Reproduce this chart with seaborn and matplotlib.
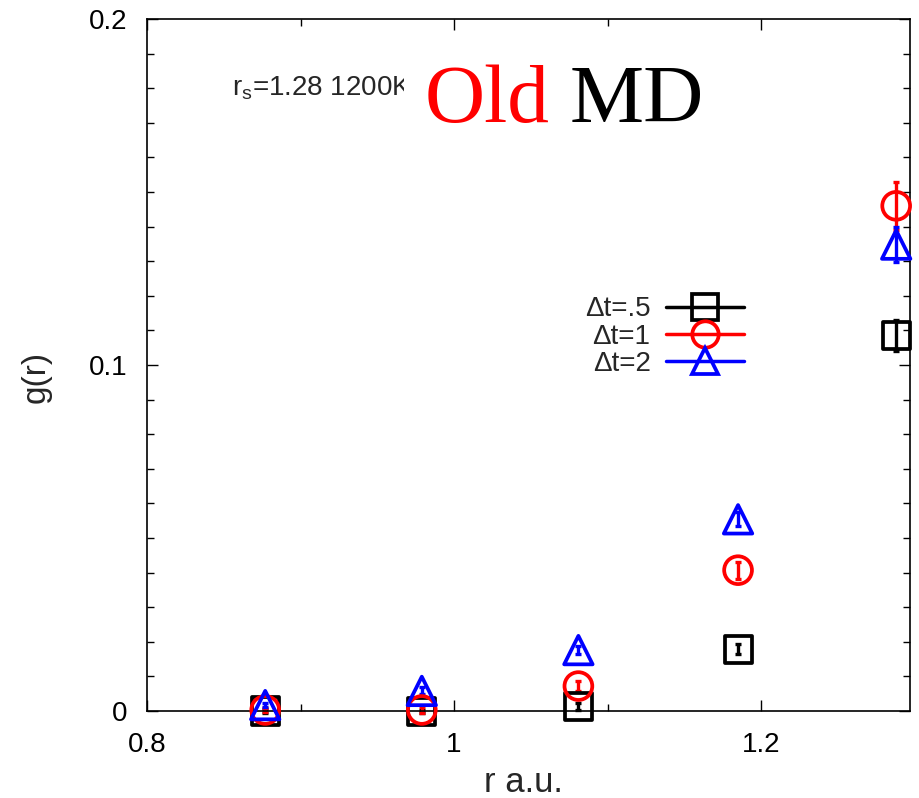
import numpy as np
import pandas as pd
import matplotlib
matplotlib.use("Agg")
import matplotlib.pyplot as plt
from matplotlib.lines import Line2D
from matplotlib.patches import Rectangle
from matplotlib.ticker import MultipleLocator, FuncFormatter
import seaborn as sns

# dati
r = [0.877, 0.979, 1.081, 1.185, 1.288]
g_dt05 = [0.0000, -0.0002, 0.0012, 0.0179, 0.1085]
g_dt1 = [0.0003, 0.0003, 0.0072, 0.0407, 0.1460]
g_dt2 = [0.0017, 0.0058, 0.0176, 0.0554, 0.1348]
err_dt05 = [0.0005, 0.0005, 0.0010, 0.0015, 0.0045]
err_dt1 = [0.0005, 0.0008, 0.0015, 0.0025, 0.0070]
err_dt2 = [0.0005, 0.0010, 0.0012, 0.0020, 0.0050]
labels = ["\u0394t=.5", "\u0394t=1", "\u0394t=2"]

sns.set_style("ticks")
plt.rcParams['font.family'] = ['Liberation Sans', 'DejaVu Sans']

fig = plt.figure(figsize=(9.2, 7.98), dpi=100)
ax = fig.add_axes([147 / 920, 1 - 711 / 798, 763 / 920, 692 / 798])

series = [
    (g_dt05, err_dt05, 'black', 's', 380),
    (g_dt1, err_dt1, 'red', 'o', 400),
    (g_dt2, err_dt2, 'blue', '^', 420),
]
handles = []
for (g, e, col, mk, sz), lab in zip(series, labels):
    df = pd.DataFrame({'r': r, 'g': g})
    ax.errorbar(df['r'], df['g'], yerr=e, fmt='none', ecolor=col,
                elinewidth=2.4, capsize=2.5, capthick=2.4, zorder=2, clip_on=False)
    sns.scatterplot(data=df, x='r', y='g', marker=mk, s=sz, facecolor='none',
                    edgecolor=col, linewidth=2.7, ax=ax, zorder=3, legend=False,
                    clip_on=False)
    handles.append(Line2D([], [], color=col, lw=2.5, marker=mk, markersize=19,
                          markerfacecolor='none', markeredgewidth=2.7, label=lab))

ax.set_xlim(0.8, 1.297)
ax.set_ylim(0, 0.2)
ax.xaxis.set_major_locator(MultipleLocator(0.2))
ax.xaxis.set_minor_locator(MultipleLocator(0.1))
ax.yaxis.set_major_locator(MultipleLocator(0.1))
ax.yaxis.set_minor_locator(MultipleLocator(0.01))
ax.xaxis.set_major_formatter(FuncFormatter(lambda v, p: f"{v:g}"))
ax.yaxis.set_major_formatter(FuncFormatter(lambda v, p: f"{v:g}"))
ax.tick_params(which='both', direction='in', top=True, right=True, width=1, colors='black')
ax.tick_params(which='major', length=8, labelsize=20)
ax.tick_params(axis='x', which='major', pad=15)
ax.tick_params(axis='y', which='major', pad=14)
ax.tick_params(which='minor', length=5)
for s in ax.spines.values():
    s.set_linewidth(1.2)
    s.set_color('black')

ax.set_xlabel('r a.u.', fontsize=25)
ax.set_ylabel('g(r)', fontsize=24)
ax.xaxis.set_label_coords(0.493, -0.079)
ax.yaxis.set_label_coords(-0.125, 0.483)

leg = ax.legend(handles=handles, loc='center', bbox_to_anchor=(0.678, 0.541),
                frameon=False, markerfirst=False, fontsize=20, handlelength=2.8,
                handletextpad=0.55, labelspacing=0.05, borderpad=0)

fig.text(232 / 920, 1 - 95 / 798, 'r$_\\mathregular{s}$=1.28 1200K', fontsize=20,
         va='baseline', ha='left')
fig.add_artist(Rectangle((404 / 920, 1 - 108 / 798), 20 / 920, 46 / 798,
                         transform=fig.transFigure, facecolor='white',
                         edgecolor='none', zorder=4))
fig.text(425 / 920, 1 - 122 / 798, 'Old', fontsize=60, color='red',
         family='Liberation Serif', va='baseline', ha='left', zorder=5)
fig.text(570 / 920, 1 - 122 / 798, 'MD', fontsize=60, color='black',
         family='Liberation Serif', va='baseline', ha='left', zorder=5)

fig.savefig('out.png', dpi=100)
